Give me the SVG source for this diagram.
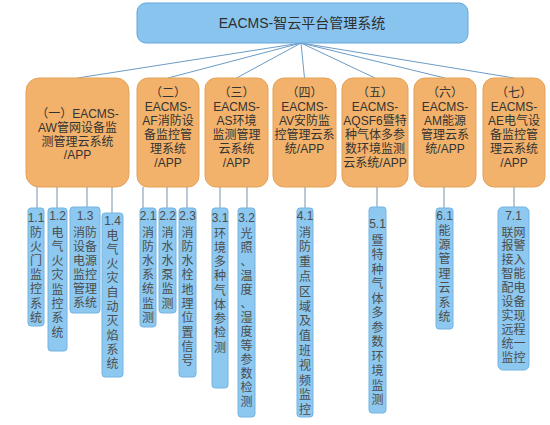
<svg xmlns="http://www.w3.org/2000/svg" width="550" height="425" viewBox="0 0 550 425">
<style>
text{font-family:"Liberation Sans","Noto Sans CJK SC",sans-serif;text-anchor:middle}
.top rect{fill:#89c4ee;stroke:#62a6da;stroke-width:1}
.top text{font-size:14px;fill:#2f2f2f}
.mid rect{fill:#f2b26b;stroke:#e3a258;stroke-width:1}
.mid text{font-size:12px;fill:#333}
.leaf rect{fill:#8cc8ef;stroke:#74b4e2;stroke-width:1}
.leaf text{font-size:12px;fill:#4d4d4d}
.conn line{stroke:#6b9cc6;stroke-width:1}
.conn .v{stroke:#7593ab}
</style>
<g class="conn">
<line x1="301" y1="43" x2="77.5" y2="78"/>
<line x1="301" y1="43" x2="168" y2="78"/>
<line x1="301" y1="43" x2="236.5" y2="78"/>
<line x1="301" y1="43" x2="304.5" y2="78"/>
<line x1="301" y1="43" x2="375" y2="78"/>
<line x1="301" y1="43" x2="445" y2="78"/>
<line x1="301" y1="43" x2="514" y2="78"/>
<line class="v" x1="37" y1="187" x2="37" y2="208"/>
<line class="v" x1="57" y1="187" x2="57" y2="208"/>
<line class="v" x1="87" y1="187" x2="87" y2="207"/>
<line class="v" x1="112" y1="187" x2="112" y2="213"/>
<line class="v" x1="143" y1="187" x2="143" y2="208"/>
<line class="v" x1="167" y1="187" x2="167" y2="208"/>
<line class="v" x1="187" y1="187" x2="187" y2="208"/>
<line class="v" x1="220" y1="187" x2="220" y2="208"/>
<line class="v" x1="247" y1="187" x2="247" y2="208"/>
<line class="v" x1="305" y1="187" x2="305" y2="208"/>
<line class="v" x1="377" y1="187" x2="377" y2="207"/>
<line class="v" x1="444" y1="187" x2="444" y2="208"/>
<line class="v" x1="514" y1="187" x2="514" y2="207"/>
</g>
<g id="root" class="top">
<rect x="137" y="3" width="331" height="40" rx="9"/>
<text x="302" y="28">EACMS-智云平台管理系统</text>
</g>
<g id="n1" class="mid">
<rect x="26" y="78" width="103" height="109" rx="13"/>
<text x="77.5" y="117.5">（一）EACMS-<tspan x="77.5" dy="14">AW管网设备监</tspan><tspan x="77.5" dy="14">测管理云系统</tspan><tspan x="77.5" dy="13.5">/APP</tspan></text>
</g>
<g id="n2" class="mid">
<rect x="137" y="78" width="62" height="109" rx="11"/>
<text x="168" y="96.5">（二）<tspan x="168" dy="14">EACMS-</tspan><tspan x="168" dy="14">AF消防设</tspan><tspan x="168" dy="14">备监控管</tspan><tspan x="168" dy="14">理系统</tspan><tspan x="168" dy="14">/APP</tspan></text>
</g>
<g id="n3" class="mid">
<rect x="205" y="78" width="63" height="109" rx="11"/>
<text x="236.5" y="96.5">（三）<tspan x="236.5" dy="14">EACMS-</tspan><tspan x="236.5" dy="14">AS环境</tspan><tspan x="236.5" dy="14">监测管理</tspan><tspan x="236.5" dy="14">云系统</tspan><tspan x="236.5" dy="14">/APP</tspan></text>
</g>
<g id="n4" class="mid">
<rect x="273" y="78" width="63" height="109" rx="11"/>
<text x="304.5" y="96.5">（四）<tspan x="304.5" dy="14">EACMS-</tspan><tspan x="304.5" dy="14">AV安防监</tspan><tspan x="304.5" dy="14">控管理云系</tspan><tspan x="304.5" dy="14">统/APP</tspan></text>
</g>
<g id="n5" class="mid">
<rect x="342" y="78" width="66" height="109" rx="11"/>
<text x="375" y="96.5">（五）<tspan x="375" dy="14">EACMS-</tspan><tspan x="375" dy="14">AQSF6暨特</tspan><tspan x="375" dy="14">种气体多参</tspan><tspan x="375" dy="14">数环境监测</tspan><tspan x="375" dy="14">云系统/APP</tspan></text>
</g>
<g id="n6" class="mid">
<rect x="414" y="78" width="62" height="109" rx="11"/>
<text x="445" y="96.5">（六）<tspan x="445" dy="14">EACMS-</tspan><tspan x="445" dy="14">AM能源</tspan><tspan x="445" dy="14">管理云系</tspan><tspan x="445" dy="14">统/APP</tspan></text>
</g>
<g id="n7" class="mid">
<rect x="483" y="78" width="62" height="109" rx="11"/>
<text x="514" y="96.5">（七）<tspan x="514" dy="14">EACMS-</tspan><tspan x="514" dy="14">AE电气设</tspan><tspan x="514" dy="14">备监控管</tspan><tspan x="514" dy="14">理云系统</tspan><tspan x="514" dy="14">/APP</tspan></text>
</g>
<g id="l11" class="leaf">
<rect x="28" y="208" width="16" height="118" rx="3"/>
<text x="36" y="221.5">1.1<tspan x="36" dy="15">防</tspan><tspan x="36" dy="14.2">火</tspan><tspan x="36" dy="14.2">门</tspan><tspan x="36" dy="14.2">监</tspan><tspan x="36" dy="14.2">控</tspan><tspan x="36" dy="14.2">系</tspan><tspan x="36" dy="14.2">统</tspan></text>
</g>
<g id="l12" class="leaf">
<rect x="48" y="208" width="19" height="143" rx="3"/>
<text x="57.5" y="219.5">1.2<tspan x="57.5" dy="17">电</tspan><tspan x="57.5" dy="14.3">气</tspan><tspan x="57.5" dy="14.3">火</tspan><tspan x="57.5" dy="14.3">灾</tspan><tspan x="57.5" dy="14.3">监</tspan><tspan x="57.5" dy="14.3">控</tspan><tspan x="57.5" dy="14.3">系</tspan><tspan x="57.5" dy="14.3">统</tspan></text>
</g>
<g id="l13" class="leaf">
<rect x="70" y="207" width="30" height="106" rx="3"/>
<text x="85" y="219.5">1.3<tspan x="85" dy="17">消防</tspan><tspan x="85" dy="14">设备</tspan><tspan x="85" dy="14">电源</tspan><tspan x="85" dy="14">监控</tspan><tspan x="85" dy="14">管理</tspan><tspan x="85" dy="14">系统</tspan></text>
</g>
<g id="l14" class="leaf">
<rect x="102" y="213" width="21" height="164" rx="3"/>
<text x="112.5" y="224.5">1.4<tspan x="112.5" dy="15">电</tspan><tspan x="112.5" dy="14.3">气</tspan><tspan x="112.5" dy="14.3">火</tspan><tspan x="112.5" dy="14.3">灾</tspan><tspan x="112.5" dy="14.3">自</tspan><tspan x="112.5" dy="14.3">动</tspan><tspan x="112.5" dy="14.3">灭</tspan><tspan x="112.5" dy="14.3">焰</tspan><tspan x="112.5" dy="14.3">系</tspan><tspan x="112.5" dy="14.3">统</tspan></text>
</g>
<g id="l21" class="leaf">
<rect x="140" y="208" width="16" height="119" rx="3"/>
<text x="148" y="219.5">2.1<tspan x="148" dy="17">消</tspan><tspan x="148" dy="14.2">防</tspan><tspan x="148" dy="14.2">水</tspan><tspan x="148" dy="14.2">系</tspan><tspan x="148" dy="14.2">统</tspan><tspan x="148" dy="14.2">监</tspan><tspan x="148" dy="14.2">测</tspan></text>
</g>
<g id="l22" class="leaf">
<rect x="159" y="208" width="17" height="105" rx="3"/>
<text x="167.5" y="219.5">2.2<tspan x="167.5" dy="17">消</tspan><tspan x="167.5" dy="14.2">水</tspan><tspan x="167.5" dy="14.2">水</tspan><tspan x="167.5" dy="14.2">泵</tspan><tspan x="167.5" dy="14.2">监</tspan><tspan x="167.5" dy="14.2">测</tspan></text>
</g>
<g id="l23" class="leaf">
<rect x="179" y="208" width="17" height="169" rx="3"/>
<text x="187.5" y="219.5">2.3<tspan x="187.5" dy="17">消</tspan><tspan x="187.5" dy="14.3">防</tspan><tspan x="187.5" dy="14.3">水</tspan><tspan x="187.5" dy="14.3">栓</tspan><tspan x="187.5" dy="14.3">地</tspan><tspan x="187.5" dy="14.3">理</tspan><tspan x="187.5" dy="14.3">位</tspan><tspan x="187.5" dy="14.3">置</tspan><tspan x="187.5" dy="14.3">信</tspan><tspan x="187.5" dy="14.3">号</tspan></text>
</g>
<g id="l31" class="leaf">
<rect x="212" y="208" width="16" height="180" rx="3"/>
<text x="220" y="221.5">3.1<tspan x="220" dy="16">环</tspan><tspan x="220" dy="14.25">境</tspan><tspan x="220" dy="14.25">多</tspan><tspan x="220" dy="14.25">种</tspan><tspan x="220" dy="14.25">气</tspan><tspan x="220" dy="14.25">体</tspan><tspan x="220" dy="14.25">参</tspan><tspan x="220" dy="14.25">检</tspan><tspan x="220" dy="14.25">测</tspan></text>
</g>
<g id="l32" class="leaf">
<rect x="238" y="208" width="17" height="209" rx="3"/>
<text x="246.5" y="221.5">3.2<tspan x="246.5" dy="16">光</tspan><tspan x="246.5" dy="14">照</tspan><tspan x="246.5" dy="14">、</tspan><tspan x="246.5" dy="14">温</tspan><tspan x="246.5" dy="14">度</tspan><tspan x="246.5" dy="14">、</tspan><tspan x="246.5" dy="14">湿</tspan><tspan x="246.5" dy="14">度</tspan><tspan x="246.5" dy="14">等</tspan><tspan x="246.5" dy="14">参</tspan><tspan x="246.5" dy="14">数</tspan><tspan x="246.5" dy="14">检</tspan><tspan x="246.5" dy="14">测</tspan></text>
</g>
<g id="l41" class="leaf">
<rect x="297" y="208" width="16" height="209" rx="3"/>
<text x="305" y="219.5">4.1<tspan x="305" dy="17">消</tspan><tspan x="305" dy="14.8">防</tspan><tspan x="305" dy="14.8">重</tspan><tspan x="305" dy="14.8">点</tspan><tspan x="305" dy="14.8">区</tspan><tspan x="305" dy="14.8">域</tspan><tspan x="305" dy="14.8">及</tspan><tspan x="305" dy="14.8">值</tspan><tspan x="305" dy="14.8">班</tspan><tspan x="305" dy="14.8">视</tspan><tspan x="305" dy="14.8">频</tspan><tspan x="305" dy="14.8">监</tspan><tspan x="305" dy="14.8">控</tspan></text>
</g>
<g id="l51" class="leaf">
<rect x="369" y="207" width="17" height="206" rx="3"/>
<text x="377.5" y="227.5">5.1<tspan x="377.5" dy="17">暨</tspan><tspan x="377.5" dy="14.5">特</tspan><tspan x="377.5" dy="14.5">种</tspan><tspan x="377.5" dy="14.5">气</tspan><tspan x="377.5" dy="14.5">体</tspan><tspan x="377.5" dy="14.5">多</tspan><tspan x="377.5" dy="14.5">参</tspan><tspan x="377.5" dy="14.5">数</tspan><tspan x="377.5" dy="14.5">环</tspan><tspan x="377.5" dy="14.5">境</tspan><tspan x="377.5" dy="14.5">监</tspan><tspan x="377.5" dy="14.5">测</tspan></text>
</g>
<g id="l61" class="leaf">
<rect x="436" y="208" width="17" height="121" rx="3"/>
<text x="444.5" y="219.5">6.1<tspan x="444.5" dy="15">能</tspan><tspan x="444.5" dy="14.4">源</tspan><tspan x="444.5" dy="14.4">管</tspan><tspan x="444.5" dy="14.4">理</tspan><tspan x="444.5" dy="14.4">云</tspan><tspan x="444.5" dy="14.4">系</tspan><tspan x="444.5" dy="14.4">统</tspan></text>
</g>
<g id="l71" class="leaf">
<rect x="498" y="207" width="31" height="163" rx="5"/>
<text x="513.5" y="219.5">7.1<tspan x="513.5" dy="17">联网</tspan><tspan x="513.5" dy="13.9">报警</tspan><tspan x="513.5" dy="13.9">接入</tspan><tspan x="513.5" dy="13.9">智能</tspan><tspan x="513.5" dy="13.9">配电</tspan><tspan x="513.5" dy="13.9">设备</tspan><tspan x="513.5" dy="13.9">实现</tspan><tspan x="513.5" dy="13.9">远程</tspan><tspan x="513.5" dy="13.9">统一</tspan><tspan x="513.5" dy="13.9">监控</tspan></text>
</g>
</svg>
